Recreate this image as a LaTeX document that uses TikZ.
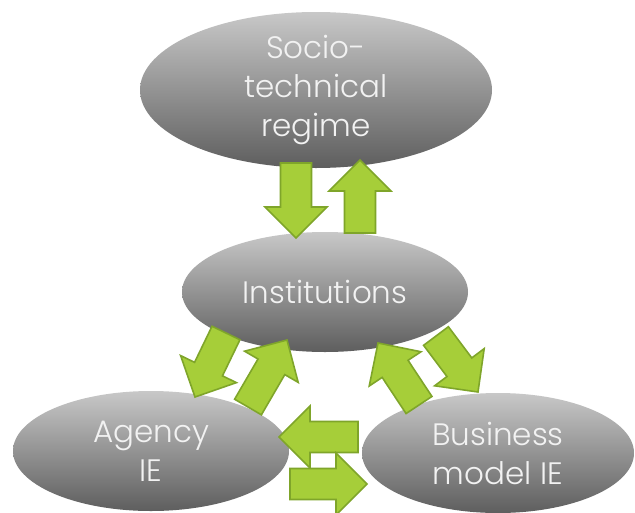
\documentclass[tikz,border=0pt]{standalone}
\usepackage{fontspec}
\setmainfont{Poppins Light}
\usetikzlibrary{calc,shapes.geometric}

\definecolor{leaf}{HTML}{A6CE39}
\definecolor{leafedge}{HTML}{7FA52A}
\definecolor{ovaltext}{HTML}{F2F2F2}
\definecolor{ovaltop}{HTML}{C8C8C8}
\definecolor{ovalmid}{HTML}{A4A4A4}
\definecolor{ovalbot}{HTML}{5E5E5E}

\tikzset{
  oval/.style={ellipse, inner sep=0pt, top color=ovaltop, middle color=ovalmid,
    bottom color=ovalbot, text=ovaltext, align=center,
    font=\fontsize{31}{39}\selectfont},
  blockarrow/.style={fill=leaf, draw=leafedge, line width=1.6pt, line join=miter},
}

% block arrow #1 from tail centre #2 to tip #3
\newcommand\greenarrow[3]{%
  \coordinate (#1-t) at #2;
  \coordinate (#1-p) at #3;
  \coordinate (#1-h) at ($(#1-p)!31pt!(#1-t)$);
  \draw[blockarrow]
    ($(#1-t)!15.5pt!90:(#1-p)$) -- ($(#1-h)!15.5pt!90:(#1-p)$)
    -- ($(#1-h)!31pt!90:(#1-p)$) -- (#1-p)
    -- ($(#1-h)!31pt!-90:(#1-p)$) -- ($(#1-h)!15.5pt!-90:(#1-p)$)
    -- ($(#1-t)!15.5pt!-90:(#1-p)$) -- cycle;
}

\begin{document}
\begin{tikzpicture}[x=1pt, y=-1pt]
  \useasboundingbox[fill=white] (0,0) rectangle (635,512);

  \node[oval, minimum width=352pt, minimum height=156pt] (regime) at (316,90)
    {Socio-\\technical\\regime};
  \node[oval, minimum width=286pt, minimum height=120pt] (inst) at (325,292)
    {Institutions};
  \node[oval, minimum width=276pt, minimum height=120pt] (agency) at (151,451)
    {Agency\\IE};
  \node[oval, minimum width=272pt, minimum height=120pt] (business) at (498,453)
    {Business\\model IE};

  % regime <-> institutions
  \greenarrow{rd}{(296,163)}{(296,238)}
  \greenarrow{ru}{(360,233)}{(360,160)}
  % institutions <-> agency
  \greenarrow{ad}{(226,333)}{(195,397)}
  \greenarrow{au}{(248,407)}{(287,340)}
  % institutions <-> business model
  \greenarrow{bu}{(419,405)}{(378,343)}
  \greenarrow{bd}{(436,336)}{(478,392)}
  % business model <-> agency
  \greenarrow{ba}{(358,437)}{(279,437)}
  \greenarrow{ab}{(290,484)}{(367,484)}
\end{tikzpicture}
\end{document}
